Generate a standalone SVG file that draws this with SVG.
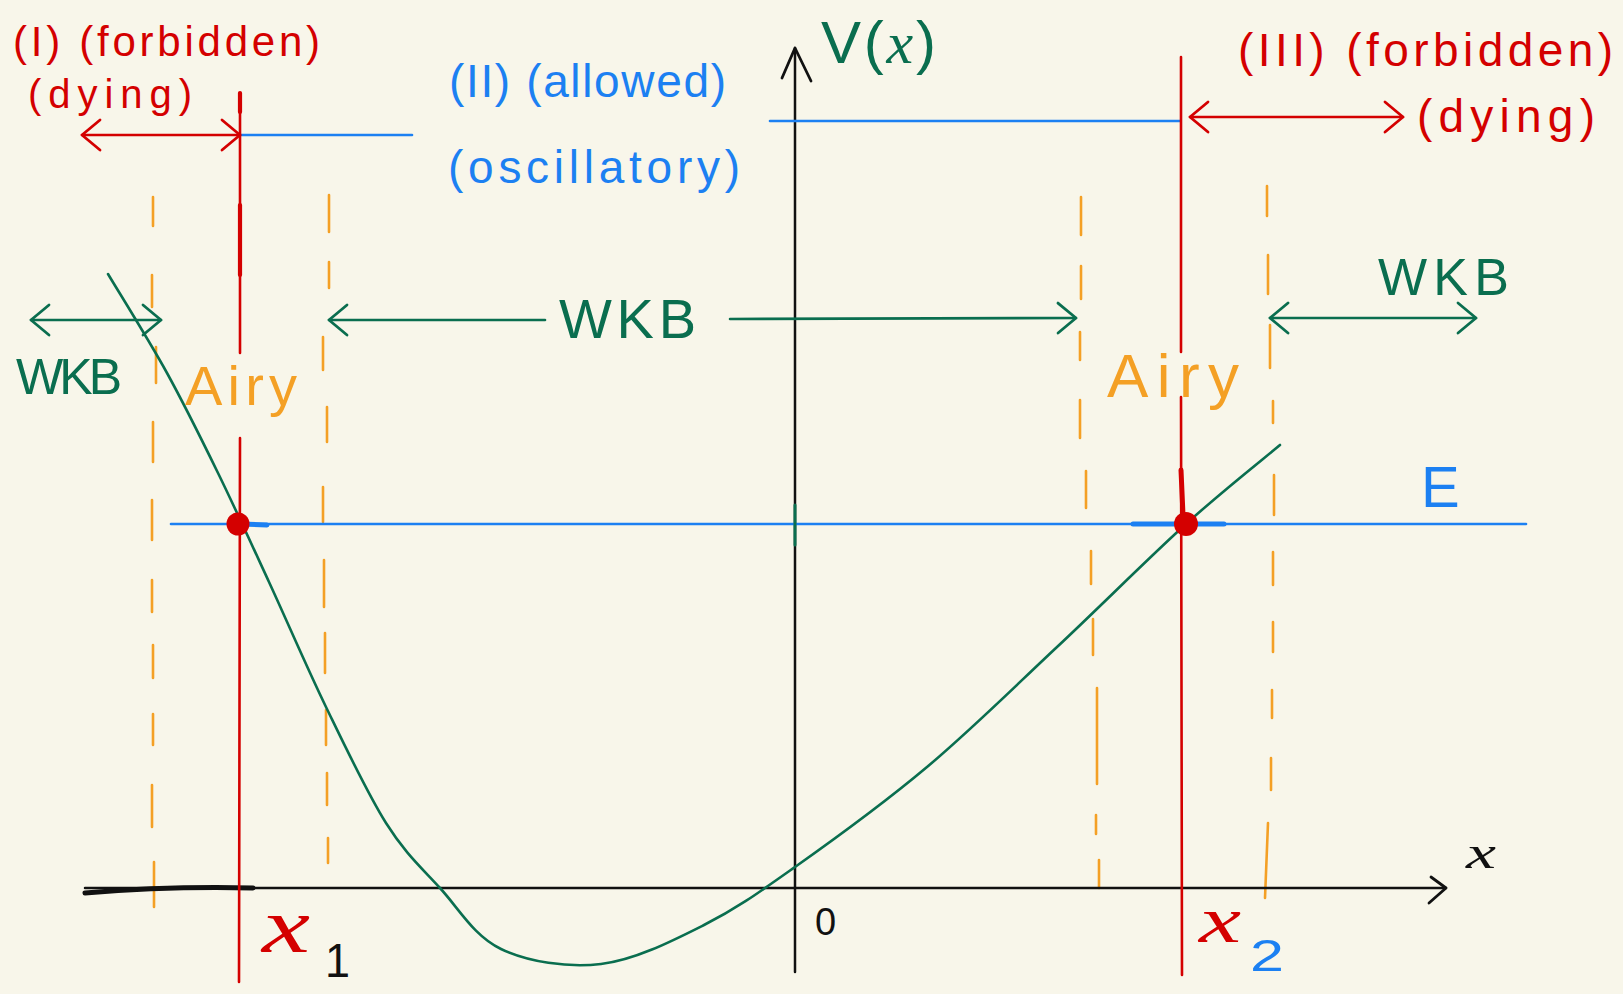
<svg xmlns="http://www.w3.org/2000/svg" width="1623" height="994" viewBox="0 0 1623 994">
<style>
.t{font-family:"Liberation Sans",Arial,sans-serif}
.v{font-family:"Liberation Serif","Times New Roman",serif;font-style:italic}
.red{fill:#d40000}.blue{fill:#1c80f2}.green{fill:#0a6e4f}.orange{fill:#f4a025}.black{fill:#111}
.ln{fill:none;stroke-linecap:round;stroke-linejoin:round}
.dash{fill:none;stroke:#f4a025;stroke-width:2.6;stroke-linecap:round}
</style>
<defs>
<marker id="ag" viewBox="-24 -20 30 40" markerWidth="30" markerHeight="40" refX="0" refY="0" orient="auto-start-reverse" markerUnits="userSpaceOnUse">
<path d="M-18,-15 L0,0 L-18,15" fill="none" stroke="#0a6e4f" stroke-width="2.8" stroke-linecap="round" stroke-linejoin="round"/>
</marker>
<marker id="ar" viewBox="-24 -20 30 40" markerWidth="30" markerHeight="40" refX="0" refY="0" orient="auto-start-reverse" markerUnits="userSpaceOnUse">
<path d="M-18,-15 L0,0 L-18,15" fill="none" stroke="#d40000" stroke-width="2.8" stroke-linecap="round" stroke-linejoin="round"/>
</marker>
</defs>
<rect width="1623" height="994" fill="#f8f6ea"/>

<g id="dashed-lines">
<path class="dash" d="M153,197 L153,226 M152,275 L152,307 M156,347 L156,383 M153,422 L153,462 M152,500 L152,540 M152,580 L152,612 M153,645 L153,678 M153,714 L153,745 M152,785 L152,827 M154,862 L154,907"/>
<path class="dash" d="M329,195 L329,232 M329,262 L329,288 M323,337 L323,370 M327,407 L327,442 M323,487 L323,522 M324,560 L324,607 M325,633 L325,673 M326,710 L326,745 M327,773 L327,805 M328,838 L328,863"/>
<path class="dash" d="M1081,197 L1081,235 M1081,266 L1081,299 M1080,332 L1080,360 M1080,400 L1080,438 M1086,471 L1086,508 M1091,551 L1091,584 M1093,619 L1093,655 M1097,688 L1097,784 M1096,815 L1096,834 M1099,860 L1099,888"/>
<path class="dash" d="M1267,186 L1267,216 M1268,255 L1268,294 M1270,325 L1270,368 M1273,401 L1273,423 M1274,475 L1274,515 M1273,552 L1273,585 M1273,622 L1273,652 M1272,690 L1272,718 M1271,758 L1271,790 M1268,823 L1265,898"/>
</g>

<g id="axes">
<path class="ln" d="M795,48 L795,972" stroke="#111" stroke-width="2.5"/>
<path class="ln" d="M782,78 L795,48 L811,81" stroke="#111" stroke-width="2.8"/>
<path class="ln" d="M85,888 L1446,888" stroke="#111" stroke-width="2.5"/>
<path class="ln" d="M85,893 Q170,886 253,888" stroke="#111" stroke-width="5"/>
<path class="ln" d="M1431,877 L1446,888 L1429,903" stroke="#111" stroke-width="2.8"/>
</g>

<g id="energy-lines">
<path class="ln" d="M171,524 L1526,524" stroke="#1c80f2" stroke-width="2.6"/>
<path class="ln" d="M240,524 L267,525" stroke="#1c80f2" stroke-width="5"/>
<path class="ln" d="M1133,524 L1224,524" stroke="#1c80f2" stroke-width="5"/>
<path class="ln" d="M240,135 L412,135" stroke="#1c80f2" stroke-width="2.6"/>
<path class="ln" d="M770,121 L1180,121" stroke="#1c80f2" stroke-width="2.6"/>
</g>

<g id="potential-curve">
<path class="ln" stroke="#0a6e4f" stroke-width="2.6" d="M108,274 C117.8,290.5 148.7,339.8 167,373 C185.3,406.2 201,438.2 218,473 C235,507.8 251,543 269,582 C287,621 306.5,666.8 326,707 C345.5,747.2 367,792.8 386,823 C405,853.2 420.8,867 440,888 C459.2,909 474.2,936.3 501,949 C527.8,961.7 567.2,968 601,964 C634.8,960 671.7,941.2 704,925 C736.3,908.8 757.8,893.3 795,867 C832.2,840.7 883.3,803.7 927,767 C970.7,730.3 1013.8,687.5 1057,647 C1100.2,606.5 1148.8,557.7 1186,524 C1223.2,490.3 1264.3,458.2 1280,445"/>
<path class="ln" d="M795,505 L795,545" stroke="#0a6e4f" stroke-width="3"/>
</g>

<g id="turning-points">
<path class="ln" d="M240,93 L240,353 M240,438 L239,982" stroke="#d40000" stroke-width="2.6"/>
<path class="ln" d="M240,93 L240,112 M240,205 L240,275" stroke="#d40000" stroke-width="4.2"/>
<path class="ln" d="M1181,57 L1181,352 M1181,397 L1182,975" stroke="#d40000" stroke-width="2.6"/>
<path class="ln" d="M1181,470 L1183,515" stroke="#d40000" stroke-width="5"/>
<circle cx="238" cy="524" r="11.5" fill="#d40000"/>
<circle cx="1186" cy="524" r="12" fill="#d40000"/>
</g>

<g id="connectors">
<path class="ln" d="M82,135 L240,135" stroke="#d40000" stroke-width="2.6" marker-start="url(#ar)" marker-end="url(#ar)"/>
<path class="ln" d="M1190,117 L1403,117" stroke="#d40000" stroke-width="2.6" marker-start="url(#ar)" marker-end="url(#ar)"/>
<path class="ln" d="M31,320 L161,320" stroke="#0a6e4f" stroke-width="2.6" marker-start="url(#ag)" marker-end="url(#ag)"/>
<path class="ln" d="M329,320 L545,320" stroke="#0a6e4f" stroke-width="2.6" marker-start="url(#ag)"/>
<path class="ln" d="M730,319 L1076,318" stroke="#0a6e4f" stroke-width="2.6" marker-end="url(#ag)"/>
<path class="ln" d="M1270,318 L1476,318" stroke="#0a6e4f" stroke-width="2.6" marker-start="url(#ag)" marker-end="url(#ag)"/>
</g>

<g id="labels">
<text class="t red" x="13" y="56" font-size="42" textLength="307" lengthAdjust="spacing">(I) (forbidden)</text>
<text class="t red" x="28" y="108" font-size="40" textLength="164" lengthAdjust="spacing">(dying)</text>
<text class="t blue" x="449" y="97" font-size="46" textLength="277" lengthAdjust="spacing">(II) (allowed)</text>
<text class="t blue" x="448" y="183" font-size="46" textLength="292" lengthAdjust="spacing">(oscillatory)</text>
<text class="t green" x="821" y="63" font-size="60" textLength="115" lengthAdjust="spacing">V(<tspan class="v">x</tspan>)</text>
<text class="t red" x="1238" y="66" font-size="46" textLength="375" lengthAdjust="spacing">(III) (forbidden)</text>
<text class="t red" x="1417" y="132" font-size="46" textLength="178" lengthAdjust="spacing">(dying)</text>
<text class="t green" x="559" y="338" font-size="56" textLength="137" lengthAdjust="spacing">WKB</text>
<text class="t green" x="16" y="394" font-size="50" textLength="106" lengthAdjust="spacing">WKB</text>
<text class="t green" x="1378" y="295" font-size="52" textLength="131" lengthAdjust="spacing">WKB</text>
<text class="t orange" x="185" y="405" font-size="56" textLength="112" lengthAdjust="spacing">Airy</text>
<text class="t orange" x="1107" y="397" font-size="62" textLength="132" lengthAdjust="spacing">Airy</text>
<text class="t blue" x="1421" y="507" font-size="58">E</text>
<text class="v black" x="1466" y="868" font-size="46" textLength="30" lengthAdjust="spacingAndGlyphs">x</text>
<text class="t black" x="815" y="935" font-size="38">0</text>
<text class="v red" x="262" y="952" font-size="78" textLength="48" lengthAdjust="spacingAndGlyphs">x</text>
<text class="t black" x="325" y="977" font-size="48" textLength="25" lengthAdjust="spacingAndGlyphs">1</text>
<text class="v red" x="1199" y="942" font-size="66" textLength="42" lengthAdjust="spacingAndGlyphs">x</text>
<text class="t blue" x="1250" y="971" font-size="44" textLength="34" lengthAdjust="spacingAndGlyphs">2</text>
</g>
</svg>
